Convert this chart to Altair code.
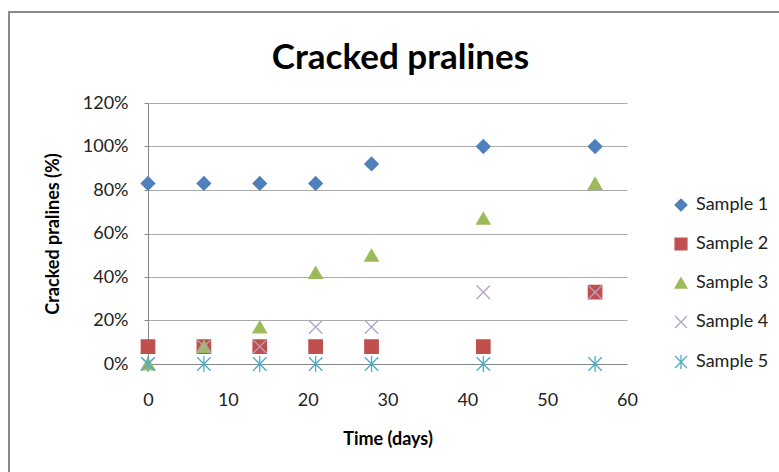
import altair as alt
import pandas as pd

days = [0, 7, 14, 21, 28, 42, 56]
series_names = ["Sample 1", "Sample 2", "Sample 3", "Sample 4", "Sample 5"]
sample1 = [0.83, 0.83, 0.83, 0.83, 0.92, 1.00, 1.00]
sample2 = [0.08, 0.08, 0.08, 0.08, 0.08, 0.08, 0.33]
sample3 = [0.00, 0.08, 0.17, 0.42, 0.50, 0.67, 0.83]
sample4 = [0.00, 0.08, 0.08, 0.17, 0.17, 0.33, 0.33]
sample5 = [0.00, 0.00, 0.00, 0.00, 0.00, 0.00, 0.00]

stroke_colors = ["#4F81BD", "#C0504D", "#9BBB59", "#B3A2C7", "#4BACC6"]
fill_colors = ["#4F81BD", "#C0504D", "#9BBB59", "transparent", "transparent"]
shapes = ["diamond", "square", "triangle-up",
          "M-1,-1L1,1M-1,1L1,-1",
          "M-1,-1L1,1M-1,1L1,-1M0,-1.2L0,1.2"]

rows = []
for name, vals in zip(series_names, [sample1, sample2, sample3, sample4, sample5]):
    for d, v in zip(days, vals):
        rows.append({"day": d, "value": v, "series": name})
df = pd.DataFrame(rows)

FONT = "Lato"

points = alt.Chart(df).mark_point(filled=False, size=180, strokeWidth=1.3, opacity=1).encode(
    x=alt.X("day:Q", title="Time (days)",
            scale=alt.Scale(domain=[0, 60], nice=False),
            axis=alt.Axis(values=[0, 10, 20, 30, 40, 50, 60], grid=False,
                          ticks=False, labelFlush=False,
                          labelPadding=27, titlePadding=21)),
    y=alt.Y("value:Q", title="Cracked pralines (%)",
            scale=alt.Scale(domain=[0, 1.2], nice=False),
            axis=alt.Axis(values=[0, 0.2, 0.4, 0.6, 0.8, 1.0, 1.2], format=".0%",
                          tickSize=4, labelFlush=False,
                          labelPadding=16, titlePadding=20)),
    color=alt.Color("series:N", title=None,
                    scale=alt.Scale(domain=series_names, range=stroke_colors)),
    fill=alt.Fill("series:N", title=None,
                  scale=alt.Scale(domain=series_names, range=fill_colors)),
    shape=alt.Shape("series:N", title=None,
                    scale=alt.Scale(domain=series_names, range=shapes)),
)

border = alt.Chart(pd.DataFrame({"a": [0]})).mark_rect(
    fill="transparent", stroke="#888888", strokeWidth=2
).encode(
    x=alt.value(-139), x2=alt.value(700),
    y=alt.value(-91), y2=alt.value(420),
)

chart = alt.layer(border, points).properties(
    width=479, height=261,
    autosize=alt.AutoSizeParams(type="none"),
    padding={"left": 148, "top": 103, "right": 152, "bottom": 108},
    title=alt.TitleParams("Cracked pralines", fontSize=35, font=FONT, fontWeight="bold",
                          color="#000000", anchor="middle", dx=13, offset=-65),
).configure_view(stroke=None).configure_axis(
    labelFont=FONT, labelFontSize=18, labelColor="#222222",
    titleFont=FONT, titleFontSize=18, titleFontWeight="bold", titleColor="#000000",
    domainColor="#888888", tickColor="#888888", gridColor="#AAAAAA",
    domainWidth=1, gridWidth=1,
).configure_legend(
    orient="none", legendX=524, legendY=93,
    labelFont=FONT, labelFontSize=18, labelColor="#222222",
    symbolSize=140, rowPadding=21, symbolStrokeWidth=1.3, labelOffset=6,
)

chart.save("out.html", embed_options={"renderer": "svg", "actions": False})
